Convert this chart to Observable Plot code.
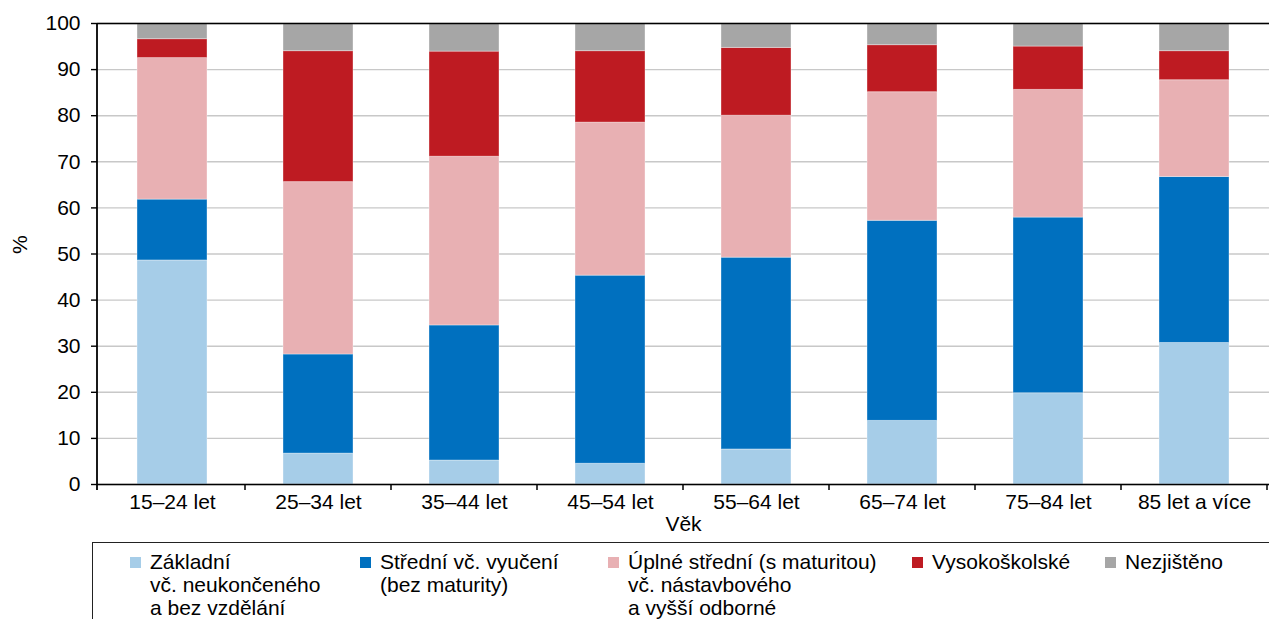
<!DOCTYPE html>
<html>
<head>
<meta charset="utf-8">
<script src="https://cdn.jsdelivr.net/npm/d3@7"></script>
<script src="https://cdn.jsdelivr.net/npm/@observablehq/plot@0.6"></script>
<style>
  html, body { margin: 0; padding: 0; background: #fff; overflow: hidden; }
  body { width: 1269px; height: 619px; position: relative; font-family: "Liberation Sans", Arial, sans-serif; color: #000; }
  #chart { position: absolute; left: 0; top: 0; }
  #legend { position: absolute; left: 92px; top: 542px; width: 1300px; height: 200px; border-top: 1.5px solid #222; border-left: 1.5px solid #222; }
  .item { position: absolute; top: 7px; font-size: 21px; line-height: 23px; white-space: nowrap; }
  .sw { position: absolute; top: 7px; left: -20px; width: 11px; height: 11px; }
</style>
</head>
<body>
<div id="chart"></div>
<div id="legend"></div>
<script>
const categories = ["15–24 let", "25–34 let", "35–44 let", "45–54 let", "55–64 let", "65–74 let", "75–84 let", "85 let a více"];
const series = ["Základní", "Střední", "Úplné", "Vysokoškolské", "Nezjištěno"];
const legendLabels = [
  ["Základní", "vč. neukončeného", "a bez vzdělání"],
  ["Střední vč. vyučení", "(bez maturity)"],
  ["Úplné střední (s maturitou)", "vč. nástavbového", "a vyšší odborné"],
  ["Vysokoškolské"],
  ["Nezjištěno"]
];
const colors = ["#a6cde8", "#0070bf", "#e8b0b3", "#be1b22", "#a6a6a6"];
const zakladni      = [48.6, 6.7, 5.2, 4.5, 7.6, 13.8, 19.8, 30.7];
const stredni       = [13.2, 21.5, 29.3, 40.8, 41.6, 43.4, 38.1, 36.0];
const uplne         = [30.7, 37.4, 36.6, 33.2, 30.8, 27.9, 27.7, 21.0];
const vysokoskolske = [4.1, 28.4, 22.8, 15.5, 14.7, 10.2, 9.4, 6.3];
const nezjisteno    = [3.4, 6.0, 6.1, 6.0, 5.3, 4.7, 5.0, 6.0];
const yTicks = [0, 10, 20, 30, 40, 50, 60, 70, 80, 90, 100];

const valuesBySeries = [zakladni, stredni, uplne, vysokoskolske, nezjisteno];
const data = [];
series.forEach((s, si) => categories.forEach((c, ci) => data.push({cat: c, series: s, value: valuesBySeries[si][ci]})));

const W = 1269, H = 540;
const plot = Plot.plot({
  width: W, height: H,
  marginLeft: 97, marginRight: 0, marginTop: 23, marginBottom: 56,
  style: {fontFamily: "Liberation Sans, Arial, sans-serif", fontSize: "21px", color: "#000", background: "#fff", overflow: "visible"},
  x: {domain: categories, paddingInner: 0.52, paddingOuter: 0.26, label: null},
  y: {domain: [0, 100], label: null},
  color: {domain: series, range: colors},
  marks: [
    Plot.gridY(yTicks, {stroke: "#c8c8c8", strokeOpacity: 1, strokeWidth: 1.4}),
    Plot.barY(data, Plot.stackY({x: "cat", y: "value", fill: "series", order: series, stroke: "#ffffff", strokeOpacity: 0.35, strokeWidth: 1})),
    Plot.ruleY([0, 100], {stroke: "#000", strokeWidth: 1.6}),
    Plot.axisY(yTicks, {tickSize: 6, tickPadding: 11, stroke: "#000", strokeWidth: 1.4, fontSize: "21px"}),
    Plot.axisX({tickSize: 0, tickPadding: 10, fontSize: "21px"}),
    Plot.text(["Věk"], {frameAnchor: "bottom", lineAnchor: "middle", dy: 40, fontSize: "21px"}),
    Plot.text(["%"], {frameAnchor: "left", dx: -77, rotate: -90, fontSize: "21px"})
  ]
});
document.getElementById("chart").appendChild(plot);

// y axis line and category boundary ticks, from the plot's own scales
const xs = plot.scale("x"), ys = plot.scale("y");
const svg = d3.select(plot);
const step = xs.step;
const y0 = ys.apply(0), y100 = ys.apply(100);
const xLeft = xs.range[0];
svg.append("line").attr("x1", xLeft).attr("x2", xLeft).attr("y1", y100).attr("y2", y0 + 6)
  .attr("stroke", "#000").attr("stroke-width", 1.8);
categories.forEach((c, i) => {
  const bx = xs.apply(c) - (step - xs.bandwidth) / 2 + step;
  svg.append("line").attr("x1", bx).attr("x2", bx).attr("y1", y0).attr("y2", y0 + 6)
    .attr("stroke", "#000").attr("stroke-width", 1.5);
});

// legend
const textLefts = [150, 380, 628, 932, 1125];
const legend = document.getElementById("legend");
legendLabels.forEach((lines, i) => {
  const it = document.createElement("div");
  it.className = "item";
  it.style.left = (textLefts[i] - 93) + "px";
  it.innerHTML = lines.join("<br>");
  const sw = document.createElement("div");
  sw.className = "sw";
  sw.style.background = colors[i];
  it.appendChild(sw);
  legend.appendChild(it);
});
</script>
</body>
</html>
